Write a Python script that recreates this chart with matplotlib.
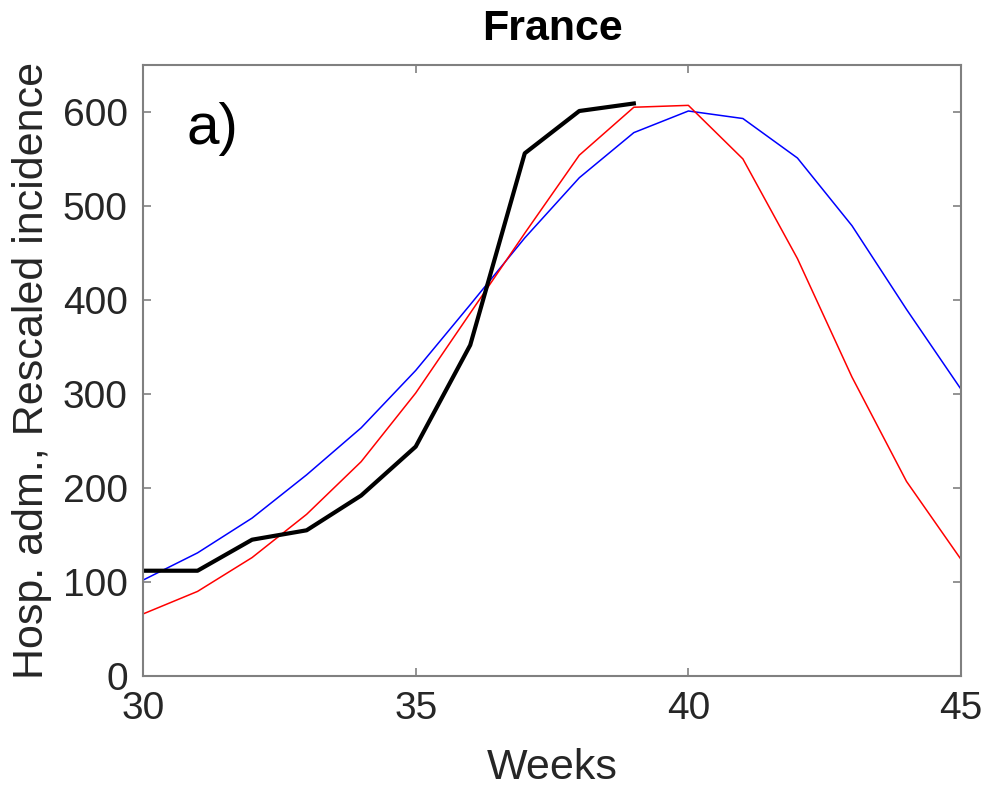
import numpy as np
import matplotlib
matplotlib.use('Agg')
import matplotlib.pyplot as plt

plt.rcParams['font.family'] = ['Liberation Sans', 'DejaVu Sans']

# Tygodnie i dane
weeks_obs = [30, 31, 32, 33, 34, 35, 36, 37, 38, 39]
hosp = [112, 112, 145, 155, 192, 244, 352, 556, 601, 609]

weeks_mod = [30, 31, 32, 33, 34, 35, 36, 37, 38, 39, 40, 41, 42, 43, 44, 45]
model_red = [66, 90, 126, 172, 228, 301, 386, 471, 554, 605, 607, 550, 444, 318, 207, 124]
model_blue = [102, 131, 168, 214, 264, 325, 395, 466, 530, 578, 601, 593, 551, 479, 390, 305]

xticks = [30, 35, 40, 45]
yticks = [0, 100, 200, 300, 400, 500, 600]

fig = plt.figure(figsize=(9.87, 7.89), dpi=100)
ax = fig.add_axes([0.1449, 0.1432, 0.8288, 0.7745])

ax.plot(weeks_mod, model_blue, color='blue', lw=1.1)
ax.plot(weeks_mod, model_red, color='red', lw=1.1)
ax.plot(weeks_obs, hosp, color='black', lw=3)

ax.set_xlim(30, 45)
ax.set_ylim(0, 650)
ax.set_xticks(xticks)
ax.set_yticks(yticks)

grey = '#808080'
for s in ax.spines.values():
    s.set_color(grey)
    s.set_linewidth(1.5)
ax.tick_params(direction='in', length=6, width=1.2, color=grey,
               labelcolor='#262626', labelsize=28,
               top=True, right=True)
ax.tick_params(axis='y', pad=11)
ax.tick_params(axis='x', pad=11)

ax.set_xlabel('Weeks', fontsize=31, color='#262626')
ax.xaxis.set_label_coords(0.5, -0.118)
ax.set_ylabel('Hosp. adm., Rescaled incidence', fontsize=31, color='#262626')
ax.yaxis.set_label_coords(-0.111, 0.5)

ax.set_title('France', fontsize=31, fontweight='bold', pad=18)

ax.text(30.79, 566, 'a)', fontsize=42, ha='left', va='baseline')

plt.savefig('out.png', dpi=100)
